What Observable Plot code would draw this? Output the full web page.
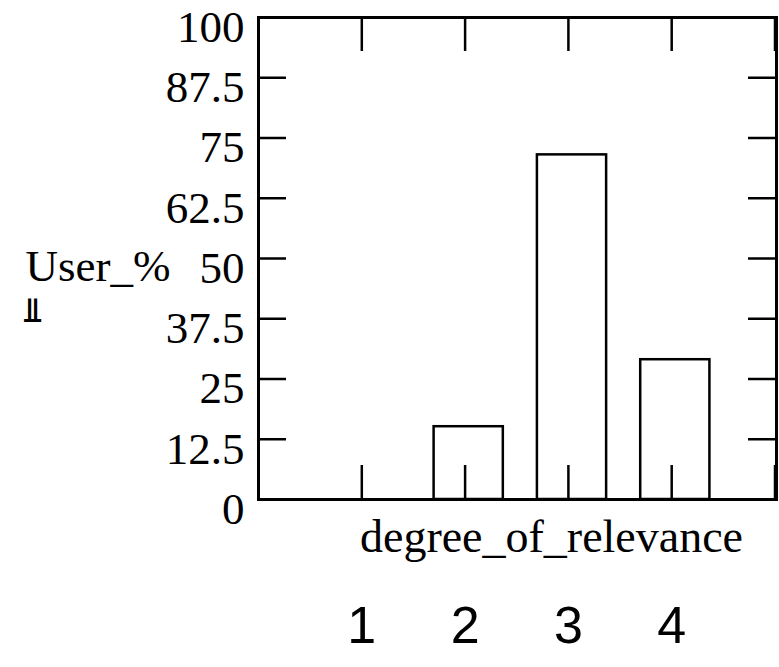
<!DOCTYPE html>
<html><head><meta charset="utf-8">
<script src="https://cdn.jsdelivr.net/npm/d3@7"></script>
<script src="https://cdn.jsdelivr.net/npm/@observablehq/plot@0.6"></script>
<style>body{margin:0;background:#fff}</style>
</head><body><div id="chart"></div>
<script>
const categories = [1, 2, 3, 4];
const userPercent = [0, 15.1, 71.5, 29.0];
const yTickValues = [0, 12.5, 25, 37.5, 50, 62.5, 75, 87.5, 100];
const xTickValues = [0, 1, 2, 3, 4, 5];
const xTickLabels = ["1", "2", "3", "4"];
const yLabel = "User_%";
const yLabelMark = "⫫";
const xLabel = "degree_of_relevance";

const data = categories.map((c, i) => ({degree: c, value: userPercent[i], label: xTickLabels[i]}));
const W = 779, H = 667, mL = 258, mR = 3, mT = 17, mB = 168;
const plotW = W - mL - mR;
const plotH = H - mT - mB;
const serif = "'Liberation Serif', 'Times New Roman', serif";

const chart = Plot.plot({
  width: W, height: H,
  marginLeft: mL, marginRight: mR, marginTop: mT, marginBottom: mB,
  style: {fontFamily: serif, fontSize: "45px", background: "#fff", color: "#000"},
  x: {domain: [0, 5], range: [mL, mL + 516.5], axis: null},
  y: {domain: [0, 100], axis: null},
  marks: [
    Plot.rect(data, {x1: d => d.degree - 0.3, x2: d => d.degree + 0.37, y1: 0, y2: "value",
      fill: "white", stroke: "black", strokeWidth: 2.5}),
    Plot.tickY(yTickValues, {y: d => d, insetRight: plotW - 28, stroke: "black", strokeWidth: 2.5}),
    Plot.tickY(yTickValues, {y: d => d, insetLeft: plotW - 28, stroke: "black", strokeWidth: 2.5}),
    Plot.tickX(xTickValues, {x: d => d, insetBottom: plotH - 34, stroke: "black", strokeWidth: 2.5}),
    Plot.tickX(xTickValues, {x: d => d, insetTop: plotH - 34, stroke: "black", strokeWidth: 2.5}),
    Plot.frame({stroke: "black", strokeWidth: 3}),
    Plot.axisY(yTickValues, {tickSize: 0, tickPadding: 14, dy: 10, fontSize: 45, fontFamily: serif,
      tickFormat: d => String(d), label: null}),
    Plot.text([yLabel], {x: () => 0, y: () => 50, dx: -233, dy: 8, textAnchor: "start",
      fontSize: 45, fontFamily: serif}),
    Plot.text([yLabelMark], {x: () => 0, y: () => 50, dx: -226, dy: 53, textAnchor: "middle",
      fontSize: 34, fontWeight: "bold", fontFamily: "DejaVu Sans"}),
    Plot.text([xLabel], {frameAnchor: "bottom", dx: 34, dy: 52, fontSize: 46, fontFamily: serif}),
    Plot.text(data, {x: "degree", text: "label", frameAnchor: "bottom", dy: 143,
      fontSize: 52, fontFamily: "'Liberation Sans', Arial, sans-serif"})
  ]
});
document.getElementById("chart").appendChild(chart);
</script>
</body></html>
